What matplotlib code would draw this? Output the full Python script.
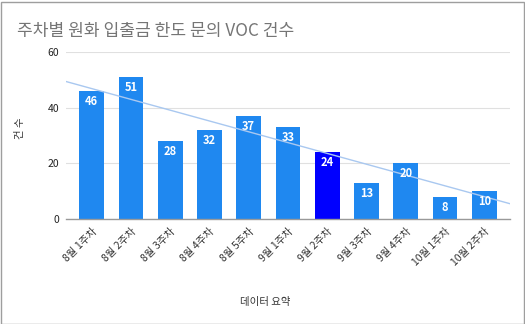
import matplotlib
matplotlib.use("Agg")
import matplotlib.pyplot as plt
import numpy as np
from matplotlib.patches import Rectangle

plt.rcParams['font.family'] = ['Noto Sans CJK KR', 'DejaVu Sans']

categories = ["8월 1주차", "8월 2주차", "8월 3주차", "8월 4주차", "8월 5주차",
              "9월 1주차", "9월 2주차", "9월 3주차", "9월 4주차", "10월 1주차", "10월 2주차"]
values = [46, 51, 28, 32, 37, 33, 24, 13, 20, 8, 10]
highlight = "9월 2주차"
yticks = [0, 20, 40, 60]

fig = plt.figure(figsize=(5.25, 3.24), dpi=100)
ax = fig.add_axes([0.126, 0.324, 0.845, 0.5155])

x = np.arange(len(categories))
colors = ["#0000ff" if c == highlight else "#1f88f0" for c in categories]
bars = ax.bar(x, values, width=0.63, color=colors, zorder=2)

for xi, v in zip(x, values):
    ax.text(xi, v - 1.4, str(v), ha='center', va='top', color='white',
            fontsize=8, fontweight='bold', zorder=4)

# linear trendline
slope, intercept = np.polyfit(x, values, 1)
xl = np.array([-0.65, len(categories) - 0.35])
ax.plot(xl, slope * xl + intercept, color='#a9c8f0', lw=1.0, zorder=3)

ax.set_xlim(-0.65, len(categories) - 0.35)
ax.set_ylim(0, 60)
ax.set_yticks(yticks)
ax.set_yticklabels([str(t) for t in yticks], fontsize=7.5, color='#222222')
ax.set_xticks(x)
ax.set_xticklabels(categories, rotation=45, ha='right', rotation_mode='anchor',
                   fontsize=7.5, color='#333333')
ax.tick_params(axis='both', length=0, pad=5)
ax.grid(axis='y', color='#e0e0e0', lw=0.8, zorder=0)
for s in ['top', 'right', 'left']:
    ax.spines[s].set_visible(False)
ax.spines['bottom'].set_color('#999999')
ax.spines['bottom'].set_linewidth(1.0)
ax.spines['bottom'].set_zorder(3)

fig.text(0.032, 0.905, "주차별 원화 입출금 한도 문의 VOC 건수", fontsize=12.3,
         color='#757575', ha='left', va='center')
fig.text(0.038, 0.605, "건 수", rotation=90, fontsize=7.5, color='#333333',
         ha='center', va='center')
fig.text(0.505, 0.068, "데이터 요약", fontsize=7.5, color='#333333',
         ha='center', va='center')

fig.patches.append(Rectangle((0.002, 0.0), 0.996, 0.994, transform=fig.transFigure,
                             fill=False, edgecolor='#9e9e9e', lw=1.0))

fig.savefig("out.png", dpi=100)
